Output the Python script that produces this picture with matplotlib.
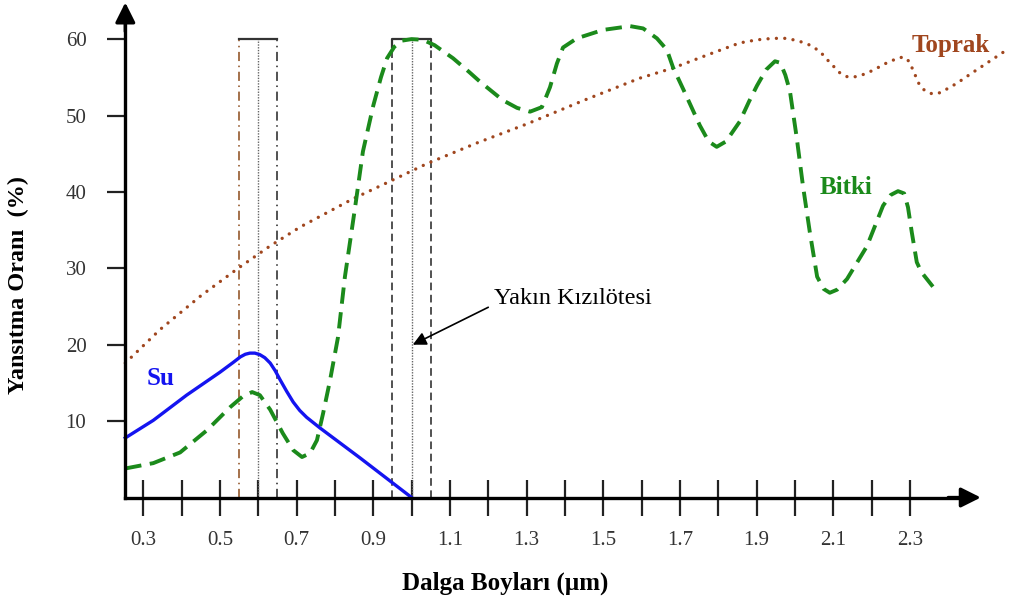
import matplotlib.pyplot as plt

plt.rcParams['font.family'] = ['Liberation Serif', 'DejaVu Serif']

# Toprak (soil) - dotted brown
x_toprak = [0.253, 0.344, 0.45, 0.55, 0.63, 0.709, 0.847, 0.944, 1.04, 1.17, 1.301,
            1.45, 1.596, 1.681, 1.77, 1.856, 1.9, 1.942, 1.98, 2.013, 2.04, 2.065,
            2.09, 2.117, 2.135, 2.151, 2.175, 2.203, 2.24, 2.273, 2.288, 2.299, 2.312,
            2.325, 2.34, 2.36, 2.38, 2.422, 2.46, 2.508, 2.553]
y_toprak = [17.6, 22.0, 26.4, 30.1, 32.9, 35.4, 39.1, 41.4, 43.7, 46.4, 48.9,
            52.0, 54.9, 56.2, 57.9, 59.5, 59.9, 60.1, 60.1, 59.7, 59.2, 58.4,
            57.0, 55.6, 55.1, 55.0, 55.3, 55.9, 56.9, 57.6, 57.6, 57.0, 55.5,
            54.0, 53.2, 52.8, 53.0, 54.2, 55.5, 57.1, 58.6]

# Bitki (vegetation) - dashed green
x_bitki = [0.253, 0.326, 0.396, 0.466, 0.526, 0.561, 0.584, 0.604, 0.631, 0.664,
           0.691, 0.714, 0.735, 0.753, 0.769, 0.787, 0.808, 0.826, 0.852, 0.873,
           0.9, 0.92, 0.936, 0.955, 0.975, 1.0, 1.03, 1.06, 1.108, 1.15, 1.179,
           1.238, 1.275, 1.309, 1.34, 1.361, 1.379, 1.395, 1.431, 1.499, 1.57, 1.604,
           1.64, 1.666, 1.682, 1.71, 1.752, 1.775, 1.796, 1.82, 1.856, 1.88, 1.901,
           1.925, 1.948, 1.962, 1.975, 1.987, 2.005, 2.021, 2.039, 2.058, 2.075,
           2.091, 2.11, 2.136, 2.188, 2.23, 2.25, 2.269, 2.285, 2.295, 2.305, 2.318,
           2.33, 2.36]
y_bitki = [3.8, 4.5, 5.9, 8.8, 11.8, 13.3, 13.8, 13.4, 11.5, 8.4,
           6.2, 5.3, 5.8, 7.5, 11.0, 15.3, 21.0, 28.9, 37.8, 45.3,
           51.3, 55.0, 57.5, 59.0, 59.8, 60.0, 59.9, 59.2, 57.5, 55.7, 54.4,
           52.0, 51.0, 50.5, 51.1, 53.7, 56.8, 58.9, 60.1, 61.2, 61.7, 61.4,
           60.1, 58.6, 56.3, 53.3, 48.7, 46.6, 45.9, 46.6, 49.2, 51.8, 53.9,
           56.0, 57.1, 56.9, 55.3, 53.2, 47.0, 40.8, 34.7, 28.9, 27.3,
           26.8, 27.2, 28.6, 32.9, 38.2, 39.6, 40.1, 39.8, 38.0, 34.7, 30.8,
           29.5, 27.6]

# Su (water) - solid blue
x_su = [0.253, 0.326, 0.413, 0.5, 0.535, 0.553, 0.566, 0.578, 0.591, 0.604, 0.617,
        0.631, 0.644, 0.657, 0.674, 0.691, 0.708, 0.726, 0.761, 0.865, 1.0]
y_su = [7.8, 10.1, 13.4, 16.4, 17.7, 18.4, 18.75, 18.9, 18.9, 18.7, 18.3,
        17.6, 16.6, 15.4, 13.9, 12.5, 11.4, 10.5, 9.1, 5.2, 0.0]

x_major = [0.3, 0.5, 0.7, 0.9, 1.1, 1.3, 1.5, 1.7, 1.9, 2.1, 2.3]
x_minor = [0.4, 0.6, 0.8, 1.0, 1.2, 1.4, 1.6, 1.8, 2.0, 2.2]
y_ticks = [10, 20, 30, 40, 50, 60]

fig = plt.figure(figsize=(10.12, 6.06), dpi=100)
ax = fig.add_axes([0, 0, 1, 1])
ax.set_xlim(-0.0739, 2.5664)
ax.set_ylim(-14.2, 65.12)

for s in ['top', 'right']:
    ax.spines[s].set_visible(False)
ax.spines['left'].set_position(('data', 0.253))
ax.spines['bottom'].set_position(('data', 0))
ax.spines['left'].set_bounds(0, 62.5)
ax.spines['bottom'].set_bounds(0.253, 2.45)
ax.spines['left'].set_linewidth(2.4)
ax.spines['bottom'].set_linewidth(2.4)

# axis arrows
ax.annotate('', xy=(2.485, 0), xytext=(2.40, 0),
            arrowprops=dict(arrowstyle='-|>', color='k', lw=2.4, mutation_scale=30,
                            shrinkA=0, shrinkB=0))
ax.annotate('', xy=(0.253, 64.8), xytext=(0.253, 61),
            arrowprops=dict(arrowstyle='-|>', color='k', lw=2.4, mutation_scale=30,
                            shrinkA=0, shrinkB=0))

ax.set_xticks(x_major)
ax.set_xticklabels([f'{v:.1f}' for v in x_major])
ax.set_xticks(x_minor, minor=True)
ax.set_yticks(y_ticks)
ax.set_yticklabels([str(v) for v in y_ticks])
ax.tick_params(axis='x', which='both', direction='inout', length=26, width=1.6,
               color='#222222', labelsize=15, labelcolor='#333333', pad=11)
ax.tick_params(axis='y', direction='out', length=13, width=1.6,
               color='#222222', labelsize=15, labelcolor='#333333', pad=15)

# spectral band markers
ax.plot([0.55, 0.55], [0, 60], color='#8B4A1A', lw=1.1, linestyle=(0, (6, 3, 1, 3)))
ax.plot([0.6, 0.6], [0, 60], color='#666666', lw=1.0, linestyle=(0, (1, 1)))
ax.plot([0.65, 0.65], [0, 60], color='#222222', lw=1.1, linestyle=(0, (6, 3, 1, 3)))
ax.plot([0.55, 0.65], [60, 60], color='#333333', lw=1.6)

ax.plot([0.95, 0.95], [0, 60], color='#222222', lw=1.1, linestyle=(0, (5, 3)))
ax.plot([1.0, 1.0], [0, 60], color='#666666', lw=1.0, linestyle=(0, (1, 1)))
ax.plot([1.05, 1.05], [0, 60], color='#222222', lw=1.1, linestyle=(0, (5, 3)))
ax.plot([0.95, 0.95, 1.05, 1.05], [59, 60, 60, 59], color='#333333', lw=1.6)

# curves
ax.plot(x_toprak, y_toprak, color='#A0461E', lw=2.4, linestyle=(0, (0.01, 2.5)),
        dash_capstyle='round')
ax.plot(x_bitki, y_bitki, color='#1B8A1B', lw=2.8, linestyle=(0, (4.2, 2.2)))
ax.plot(x_su, y_su, color='#1414F0', lw=2.4)

ax.text(2.407, 59.1, 'Toprak', color='#A0461E', fontsize=18, fontweight='bold',
        ha='center', va='center')
ax.text(2.133, 40.6, 'Bitki', color='#1B8A1B', fontsize=18, fontweight='bold',
        ha='center', va='center')
ax.text(0.344, 15.6, 'Su', color='#1414F0', fontsize=18, fontweight='bold',
        ha='center', va='center')

ax.text(1.421, 26.1, 'Yakın Kızılötesi', color='black', fontsize=17.5,
        ha='center', va='center')
ax.annotate('', xy=(1.003, 20.0), xytext=(1.2, 24.9),
            arrowprops=dict(arrowstyle='-|>', color='k', lw=1.2, mutation_scale=20,
                            shrinkA=0, shrinkB=0))

fig.text(0.499, 0.038, 'Dalga Boyları (µm)', fontsize=18, fontweight='bold',
         ha='center', va='center')
fig.text(0.018, 0.53, 'Yansıtma Oranı  (%)', fontsize=17.5, fontweight='bold',
         ha='center', va='center', rotation=90)

fig.savefig('out.png', dpi=100)
